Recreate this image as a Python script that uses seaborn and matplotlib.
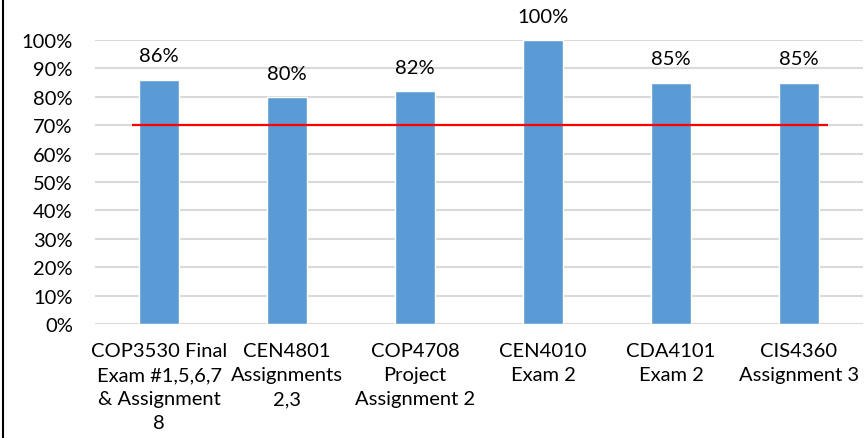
import numpy as np
import pandas as pd
import matplotlib.pyplot as plt
import seaborn as sns
from matplotlib.lines import Line2D

# chart data
courses = ['COP3530 Final\nExam #1,5,6,7\n& Assignment\n8',
           'CEN4801\nAssignments\n2,3',
           'COP4708\nProject\nAssignment 2',
           'CEN4010\nExam 2',
           'CDA4101\nExam 2',
           'CIS4360\nAssignment 3']
scores = [0.86, 0.80, 0.82, 1.00, 0.85, 0.85]
target = 0.70
y_ticks = [0.0, 0.1, 0.2, 0.3, 0.4, 0.5, 0.6, 0.7, 0.8, 0.9, 1.0]

df = pd.DataFrame({'course': courses, 'score': scores})

sns.set_style('white')
plt.rcParams['font.family'] = ['Lato', 'DejaVu Sans']

fig = plt.figure(figsize=(8.67, 4.39), dpi=100)
ax = fig.add_axes([0.1096, 0.2597, 0.8858, 0.6469])

sns.barplot(data=df, x='course', y='score', color='#5B9BD5', width=0.31,
            saturation=1, ax=ax, zorder=3)

# target line
n = len(courses)
ax.hlines(target, -0.21, (n - 1) + 0.23, color='#FF0000', linewidth=1.6, zorder=4)

# data labels
for i, v in enumerate(scores):
    ax.annotate(f'{v:.0%}', (i, v), xytext=(0, 11), textcoords='offset points',
                ha='center', va='bottom', fontsize=14.5, color='black',
                annotation_clip=False)

ax.set_xlim(-0.5, n - 0.5)
ax.set_ylim(0, 1)
ax.set_yticks(y_ticks)
ax.set_yticklabels([f'{t:.0%}' for t in y_ticks], fontsize=14.5)
ax.tick_params(axis='x', labelsize=14.5, pad=13, length=0, labelcolor='black')
ax.tick_params(axis='y', pad=16, length=0, labelcolor='black')
for lbl in ax.get_xticklabels():
    lbl.set_linespacing(1.5)
ax.set_xlabel('')
ax.set_ylabel('')
ax.yaxis.grid(True, color='#D9D9D9', linewidth=1.5, zorder=0)
ax.set_axisbelow(True)
sns.despine(ax=ax, left=True, bottom=True, top=True, right=True)

# left border of the original picture
fig.add_artist(Line2D([0.003, 0.003], [0, 1], color='black', linewidth=1.5,
                      transform=fig.transFigure))

fig.savefig('out.png', dpi=100)
